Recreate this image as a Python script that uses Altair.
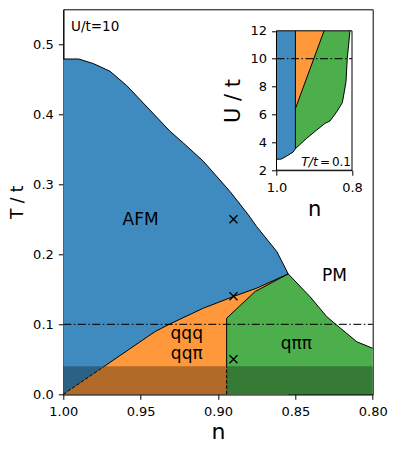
import altair as alt
import pandas as pd

# ---------------- main panel (U/t = 10) ----------------
# AFM upper boundary (T_N)
afm_n = [1.000, 0.990, 0.9806, 0.9698, 0.959, 0.9504, 0.931, 0.9224, 0.9095, 0.8922, 0.8804, 0.875, 0.862, 0.8546]
afm_T = [0.479, 0.479, 0.4725, 0.4615, 0.441, 0.421, 0.3757, 0.359, 0.333, 0.2896, 0.2565, 0.2395, 0.204, 0.172]
# PM boundary of the q-pi-pi phase
pm_n = [0.8546, 0.8405, 0.8297, 0.8233, 0.8103, 0.800]
pm_T = [0.172, 0.1394, 0.1109, 0.099, 0.0751, 0.0657]
# AFM / incommensurate boundary (first segment dashed)
low_dash_n = [1.000, 0.9735]
low_dash_T = [0.000, 0.040]
low_n = [0.9735, 0.9407, 0.931, 0.9095, 0.890, 0.875, 0.8546]
low_T = [0.040, 0.0896, 0.1006, 0.123, 0.1397, 0.1516, 0.172]
# qqq / q-pi-pi boundary (lowest part dashed)
og_dash_n = [0.8944, 0.8944]
og_dash_T = [0.000, 0.040]
og_n = [0.8944, 0.8944, 0.876, 0.8546]
og_T = [0.040, 0.1087, 0.1468, 0.172]
# markers
mk_n = [0.89, 0.89, 0.89]
mk_T = [0.25, 0.14, 0.05]
# labels
lab_text = ["AFM", "PM", "qqq", "qqπ", "qππ"]
lab_n = [0.950, 0.8247, 0.9202, 0.9202, 0.8494]
lab_T = [0.242, 0.1623, 0.0786, 0.050, 0.0643]
band_T = [0.0, 0.04]
cut_T = 0.1

# ---------------- inset (T/t = 0.1) ----------------
in_blue_n = [1.000, 0.987, 0.9695, 0.956, 0.950]
in_blue_U = [2.78, 2.80, 3.07, 3.30, 3.54]
in_green_n = [0.950, 0.920, 0.8935, 0.8715, 0.8583, 0.8405, 0.8257, 0.8204, 0.8159, 0.8125, 0.8053]
in_green_U = [3.54, 4.29, 4.88, 5.36, 5.53, 6.19, 6.84, 7.63, 8.34, 10.02, 12.0]
in_diag_n = [0.950, 0.874]
in_diag_U = [6.41, 12.0]
in_cut_U = 10.0
in_lab_text = ["T/t", "=", "0.1"]
in_lab_n = [0.8901, 0.8715, 0.8026]

BLUE = "#3f8bc0"
ORANGE = "#ff983a"
GREEN = "#4caf4c"
FONT = "DejaVu Sans"

W, H = 309.4, 385.0

xs = alt.Scale(domain=[1.0, 0.8], nice=False, zero=False)
ys = alt.Scale(domain=[0.0, 0.55], nice=False, zero=False)
x_axis = alt.Axis(title="n", values=[1.0, 0.95, 0.9, 0.85, 0.8], format=".2f",
                  labelFontSize=13, titleFontSize=22, tickSize=5, labelPadding=6,
                  titlePadding=3, grid=False, labelFlush=False)
y_axis = alt.Axis(title="T / t", values=[0.0, 0.1, 0.2, 0.3, 0.4, 0.5], format=".1f",
                  labelFontSize=13, titleFontSize=17, tickSize=5, labelPadding=5,
                  titlePadding=6, grid=False, labelFlush=False)


def MX():
    return alt.X("n:Q", scale=xs, axis=x_axis)


def MY():
    return alt.Y("T:Q", scale=ys, axis=y_axis)


def area(ns, ts, color, base=0.0):
    d = pd.DataFrame({"n": ns, "T": ts, "b": [base] * len(ns)})
    return alt.Chart(d).mark_area(color=color, opacity=1, interpolate="linear").encode(
        x=MX(), y=MY(), y2="b:Q")


def line(ns, ts, dash=None, width=1.0):
    d = pd.DataFrame({"n": ns, "T": ts, "i": list(range(len(ns)))})
    kw = dict(color="black", strokeWidth=width)
    if dash is not None:
        kw["strokeDash"] = dash
    return alt.Chart(d).mark_line(**kw).encode(x=MX(), y=MY(), order="i:Q")


band = alt.Chart(pd.DataFrame({"n": [1.0], "n2": [0.8], "T": [band_T[0]], "T2": [band_T[1]]})).mark_rect(
    color="black", opacity=0.3).encode(x=MX(), x2="n2:Q", y=MY(), y2="T2:Q")

cut = alt.Chart(pd.DataFrame({"n": [1.0], "n2": [0.8], "T": [cut_T]})).mark_rule(
    color="black", opacity=0.85, strokeWidth=1.2, strokeDash=[8, 2.5, 1.5, 2.5]).encode(
    x=MX(), x2="n2:Q", y=MY())

marks = alt.Chart(pd.DataFrame({"n": mk_n, "T": mk_T})).mark_point(
    shape="M-1,-1L1,1M-1,1L1,-1", size=64, filled=False, stroke="black",
    strokeWidth=1.3, opacity=1).encode(x=MX(), y=MY())

labels = alt.Chart(pd.DataFrame({"n": lab_n, "T": lab_T, "s": lab_text})).mark_text(
    font=FONT, fontSize=17, align="center", baseline="alphabetic", color="black").encode(
    x=MX(), y=MY(), text="s:N")

ut = alt.Chart(pd.DataFrame({"n": [0.995], "T": [0.5187], "s": ["U/t=10"]})).mark_text(
    font=FONT, fontSize=13.5, align="left", baseline="alphabetic", color="black").encode(
    x=MX(), y=MY(), text="s:N")

main = alt.layer(
    area(afm_n, afm_T, BLUE),
    area(low_dash_n + low_n[1:], low_dash_T + low_T[1:], ORANGE),
    area(og_n[1:] + pm_n[1:], og_T[1:] + pm_T[1:], GREEN),
    band,
    cut,
    line(afm_n + pm_n[1:], afm_T + pm_T[1:]),
    line(low_dash_n, low_dash_T, dash=[3.7, 1.6]),
    line(low_n, low_T),
    line(og_dash_n, og_dash_T, dash=[3.7, 1.6]),
    line(og_n, og_T),
    marks,
    labels,
    ut,
)

# ---------------- inset ----------------
ixs = alt.Scale(domain=[1.0, 0.8], range=[213.2, 288.7], nice=False, zero=False)
iys = alt.Scale(domain=[2, 12], range=[160.9, 21.5], nice=False, zero=False)
ix_axis = alt.Axis(title="n", orient="bottom", offset=160.9 - H, values=[1.0, 0.8], format=".1f",
                   labelFontSize=13, titleFontSize=21, tickSize=5, labelPadding=6,
                   titlePadding=4, grid=False, labelFlush=False)
iy_axis = alt.Axis(title="U / t", orient="left", offset=-213.2, values=[2, 4, 6, 8, 10, 12], format="d",
                   labelFontSize=13, titleFontSize=21, tickSize=5, labelPadding=5,
                   titlePadding=6, grid=False, labelFlush=False)


def IX():
    return alt.X("n:Q", scale=ixs, axis=ix_axis)


def IY():
    return alt.Y("U:Q", scale=iys, axis=iy_axis)


def iarea(ns, us, color, top=12.0):
    d = pd.DataFrame({"n": ns, "U": us, "t": [top] * len(ns)})
    return alt.Chart(d).mark_area(color=color, opacity=1, interpolate="linear").encode(
        x=IX(), y=IY(), y2="t:Q")


def iline(ns, us):
    d = pd.DataFrame({"n": ns, "U": us, "i": list(range(len(ns)))})
    return alt.Chart(d).mark_line(color="black", strokeWidth=1.0).encode(x=IX(), y=IY(), order="i:Q")


frame_df = pd.DataFrame({"n": [1.0], "n2": [0.8], "U": [2.0], "U2": [12.0]})
ibg = alt.Chart(frame_df).mark_rect(color="white").encode(x=IX(), x2="n2:Q", y=IY(), y2="U2:Q")
iframe = alt.Chart(frame_df).mark_rect(fill="transparent", stroke="black", strokeWidth=1.0).encode(
    x=IX(), x2="n2:Q", y=IY(), y2="U2:Q")
icut = alt.Chart(pd.DataFrame({"n": [1.0], "n2": [0.8], "U": [in_cut_U]})).mark_rule(
    color="black", opacity=0.85, strokeWidth=1.2, strokeDash=[8, 2.5, 1.5, 2.5]).encode(
    x=IX(), x2="n2:Q", y=IY())
itxt1 = alt.Chart(pd.DataFrame({"n": [in_lab_n[0]], "U": [2.30], "s": [in_lab_text[0]]})).mark_text(
    font=FONT, fontSize=12.5, fontStyle="italic", align="right", baseline="alphabetic", color="black").encode(
    x=IX(), y=IY(), text="s:N")
itxt2 = alt.Chart(pd.DataFrame({"n": [in_lab_n[1]], "U": [2.30], "s": [in_lab_text[1]]})).mark_text(
    font=FONT, fontSize=12, align="center", baseline="alphabetic", color="black").encode(
    x=IX(), y=IY(), text="s:N")
itxt3 = alt.Chart(pd.DataFrame({"n": [in_lab_n[2]], "U": [2.30], "s": [in_lab_text[2]]})).mark_text(
    font=FONT, fontSize=12, align="right", baseline="alphabetic", color="black").encode(
    x=IX(), y=IY(), text="s:N")

inset = alt.layer(
    ibg,
    iarea(in_green_n, in_green_U, GREEN),
    iarea(in_diag_n, in_diag_U, ORANGE),
    iarea(in_blue_n, in_blue_U, BLUE),
    iline(in_blue_n + in_green_n[1:], in_blue_U + in_green_U[1:]),
    iline([0.950, 0.950], [in_green_U[0], 12.0]),
    iline(in_diag_n, in_diag_U),
    icut,
    itxt1,
    itxt2,
    itxt3,
    iframe,
)

chart = alt.layer(main, inset).resolve_scale(x="independent", y="independent").properties(
    width=W, height=H,
    autosize=alt.AutoSizeParams(type="none"),
    padding={"left": 55.3, "top": 1.3, "right": 18.3, "bottom": 51.7},
).configure_view(stroke="black", strokeWidth=1).configure_axis(
    domainColor="black", tickColor="black", labelColor="black", titleColor="black",
    labelFont=FONT, titleFont=FONT, titleFontWeight="normal", domainWidth=1, tickWidth=1,
    grid=False,
)

chart.save("out.html", embed_options={"renderer": "svg", "actions": False})
